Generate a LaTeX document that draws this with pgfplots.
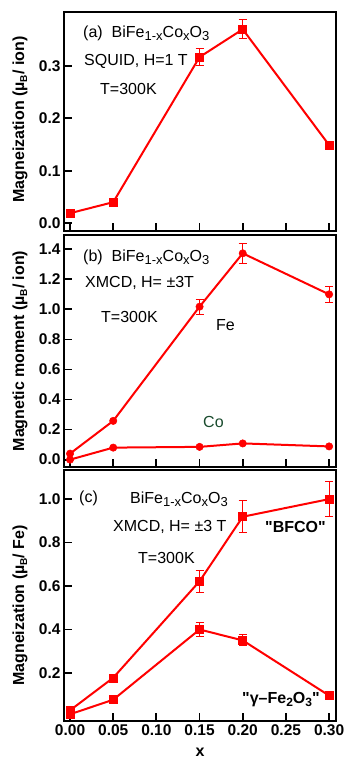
\documentclass[border=0pt]{standalone}
\usepackage{pgfplots}
\pgfplotsset{compat=1.18}
\usepackage{fontspec}
\setmainfont{Liberation Sans}
\setsansfont{Liberation Sans}
\newfontfamily\rawsans{Liberation Sans}
\definecolor{myred}{RGB}{255,0,0}
\definecolor{cogreen}{RGB}{25,75,45}
\newcommand{\fs}[1]{\fontsize{#1}{#1}\selectfont}
\newcommand{\lsub}[1]{\raisebox{-3pt}{\fs{13}#1}}
\newcommand{\bfco}{BiFe\lsub{1-x}Co\lsub{x}O\lsub{3}}
\newcommand{\muB}{µ\raisebox{-3pt}{\fs{10}B}}
\pgfplotsset{
  panel/.style={
    scale only axis, width=272pt,
    xmin=-0.007, xmax=0.308,
    axis line style={line width=2pt},
    every tick/.style={line width=1.8pt, black},
    major tick length=8pt,
    tick align=inside,
    xtick pos=bottom, ytick pos=left,
    xtick={0,0.05,0.1,0.15,0.2,0.25,0.3},
    ticklabel style={font=\bfseries\fs{15.5}},
    /pgf/number format/assume math mode=true,
    every axis y label/.style={at={(axis description cs:0,0.5)}, rotate=90, anchor=center, yshift=44pt, font=\bfseries\fs{16}},
    every axis x label/.style={at={(axis description cs:0.5,0)}, anchor=north, yshift=-24pt, font=\bfseries\fs{16}},
    clip=false,
  },
  sq/.style={myred, line width=2pt, mark=square*, mark size=4pt, mark options={solid, fill=myred, draw=myred, line width=0.5pt}},
  ci/.style={myred, line width=2pt, mark=*, mark size=3.7pt, mark options={solid, fill=myred, draw=myred, line width=0.5pt}},
  eb/.style={only marks, mark=none, forget plot, myred,
    error bars/.cd, y dir=both, y explicit,
    error bar style={draw=myred, line width=1pt, solid},
    error mark options={rotate=90, mark size=4pt, line width=1pt, draw=myred}},
}
\begin{document}
\begin{tikzpicture}
\useasboundingbox (0,0) rectangle (346pt,-762pt);
% ---------- (a)
\begin{axis}[panel, at={(64pt,-231pt)}, anchor=south west, height=219pt,
  ymin=-0.015, ymax=0.403,
  ytick={0,0.1,0.2,0.3}, yticklabels={0.0,0.1,0.2,0.3},
  xticklabels={},
  ylabel={Magneization (\muB/ ion)}, ylabel style={xshift=2pt}]
\addplot[sq] coordinates {(0,0.019) (0.05,0.040) (0.15,0.317) (0.20,0.370) (0.30,0.149)};
\addplot[eb] coordinates {(0.15,0.317) +- (0,0.017) (0.20,0.370) +- (0,0.018)};
\end{axis}
% ---------- (b)
\begin{axis}[panel, at={(64pt,-467pt)}, anchor=south west, height=232pt,
  ymin=-0.049, ymax=1.495,
  ytick={0,0.2,0.4,0.6,0.8,1.0,1.2,1.4}, yticklabels={0.0,0.2,0.4,0.6,0.8,1.0,1.2,1.4},
  xticklabels={},
  ylabel={Magnetic moment (\muB/ ion)}]
\addplot[ci] coordinates {(0,0.04) (0.05,0.258) (0.15,1.018) (0.20,1.373) (0.30,1.10)};
\addplot[eb] coordinates {(0.15,1.018) +- (0,0.05) (0.20,1.373) +- (0,0.068) (0.30,1.10) +- (0,0.055)};
\addplot[ci] coordinates {(0,0.0) (0.05,0.08) (0.15,0.085) (0.20,0.108) (0.30,0.088)};
\end{axis}
% ---------- (c)
\begin{axis}[panel, at={(64pt,-721pt)}, anchor=south west, height=251pt,
  ymin=-0.021, ymax=1.134,
  ytick={0.2,0.4,0.6,0.8,1.0}, yticklabels={0.2,0.4,0.6,0.8,1.0},
  xticklabels={0.00,0.05,0.10,0.15,0.20,0.25,0.30},
  xlabel={x},
  ylabel={Magneization (\muB/ Fe)}, ylabel style={xshift=-10pt}]
\addplot[sq] coordinates {(0,0.028) (0.05,0.178) (0.15,0.622) (0.20,0.919) (0.30,1.0)};
\addplot[eb] coordinates {(0.15,0.622) +- (0,0.05) (0.20,0.919) +- (0,0.073) (0.30,1.0) +- (0,0.08)};
\addplot[sq] coordinates {(0,0.01) (0.05,0.077) (0.15,0.40) (0.20,0.35) (0.30,0.096)};
\addplot[eb] coordinates {(0.15,0.40) +- (0,0.032) (0.20,0.35) +- (0,0.025)};
\end{axis}
% ---------- annotations
\begin{scope}[every node/.style={anchor=west, inner sep=0pt, font=\fs{16}}]
\node at (83pt,-33pt) {(a)\hspace{9pt}\bfco};
\node at (84pt,-61pt) {SQUID, H=1 T};
\node at (100pt,-89pt) {T=300K};
\node at (83pt,-257pt) {(b)\hspace{9pt}\bfco};
\node at (85pt,-283pt) {XMCD, H= ±3T};
\node at (101pt,-317pt) {T=300K};
\node at (216pt,-325pt) {Fe};
\node[text=cogreen] at (203pt,-422pt) {Co};
\node at (79pt,-498pt) {(c)};
\node at (130pt,-499pt) {\bfco};
\node at (113pt,-527pt) {XMCD, H= ±3 T};
\node at (138pt,-558pt) {T=300K};
\node[font=\rawsans\bfseries\fs{16}] at (265pt,-527pt) {"BFCO"};
\node[font=\rawsans\bfseries\fs{16}] at (242pt,-700pt) {"γ–Fe\raisebox{-3pt}{\fs{12}2}O\raisebox{-3pt}{\fs{12}3}"};
\end{scope}
\end{tikzpicture}
\end{document}
